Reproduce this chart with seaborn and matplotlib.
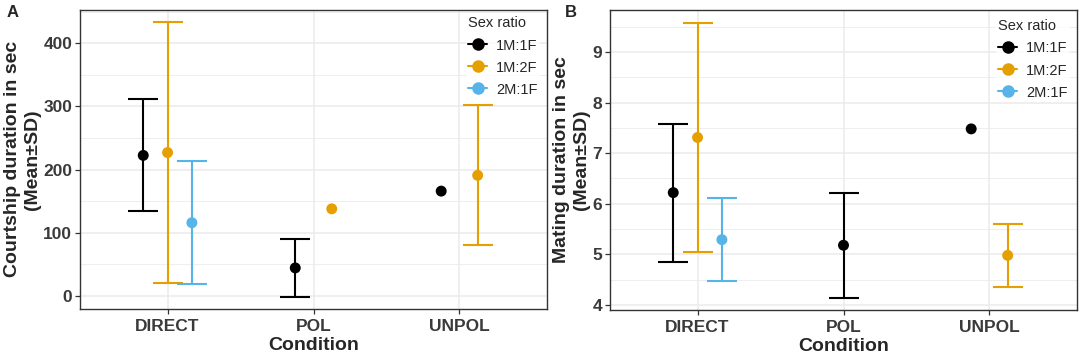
import numpy as np
import pandas as pd
import matplotlib
matplotlib.use("Agg")
import matplotlib.pyplot as plt
from matplotlib.lines import Line2D
from matplotlib.ticker import MultipleLocator
import seaborn as sns

# ---- data ----
conditions = ["DIRECT", "POL", "UNPOL"]
ratios = ["1M:1F", "1M:2F", "2M:1F"]
palette = {"1M:1F": "#000000", "1M:2F": "#E69F00", "2M:1F": "#56B4E9"}

court_cond = ["DIRECT", "DIRECT", "DIRECT", "POL", "POL", "UNPOL", "UNPOL"]
court_ratio = ["1M:1F", "1M:2F", "2M:1F", "1M:1F", "1M:2F", "1M:1F", "1M:2F"]
court_mean = [222.5, 227, 116, 44.5, 138, 166, 191]
court_sd = [88.5, 206.5, 97.5, 45.5, np.nan, np.nan, 111]

mate_cond = ["DIRECT", "DIRECT", "DIRECT", "POL", "UNPOL", "UNPOL"]
mate_ratio = ["1M:1F", "1M:2F", "2M:1F", "1M:1F", "1M:1F", "1M:2F"]
mate_mean = [6.22, 7.31, 5.29, 5.18, 7.48, 4.98]
mate_sd = [1.365, 2.255, 0.815, 1.04, np.nan, 0.62]

sns.set_style("white")
plt.rcParams["font.family"] = ["Liberation Sans", "DejaVu Sans"]

fig = plt.figure(figsize=(10.84, 3.56), dpi=100)
axA = fig.add_axes([80/1084, 1-308.7/356, (547-80)/1084, (308.7-10)/356])
axB = fig.add_axes([610/1084, 1-310/356, (1077-610)/1084, (310-10)/356])

DODGE = 0.5


def make_df(cond, ratio, mean, sd):
    df = pd.DataFrame({"cond": cond, "ratio": ratio, "mean": mean, "sd": sd})
    df["ci"] = df["cond"].map({c: i for i, c in enumerate(conditions)})
    xs = []
    for _, r in df.iterrows():
        grp = df[df["cond"] == r["cond"]]["ratio"].tolist()
        n = len(grp)
        k = grp.index(r["ratio"])
        w = DODGE / n
        xs.append(r["ci"] - DODGE / 2 + w / 2 + k * w)
    df["x"] = xs
    return df


def draw(ax, df, ylim, major, minor, ylabel, letter, leg_anchor):
    for _, r in df.iterrows():
        if not np.isnan(r["sd"]):
            ax.errorbar(r["x"], r["mean"], yerr=r["sd"], fmt="none",
                        ecolor=palette[r["ratio"]], elinewidth=1.5,
                        capsize=10.8, capthick=1.5, zorder=3)
    sns.scatterplot(data=df, x="x", y="mean", hue="ratio", hue_order=ratios,
                    palette=palette, s=62, edgecolor="none", linewidth=0,
                    legend=False, ax=ax, zorder=4)
    ax.set_xlim(-0.6, 2.6)
    ax.set_ylim(*ylim)
    ax.set_xticks(range(len(conditions)))
    ax.set_xticklabels(conditions)
    ax.yaxis.set_major_locator(MultipleLocator(major))
    ax.yaxis.set_minor_locator(MultipleLocator(minor))
    ax.grid(True, which="major", color="#EBEBEB", lw=1.1, zorder=0)
    ax.grid(True, which="minor", axis="y", color="#EBEBEB", lw=0.6, zorder=0)
    ax.set_axisbelow(True)
    for s in ax.spines.values():
        s.set_color("#333333")
        s.set_linewidth(1.0)
    ax.tick_params(axis="both", which="major", direction="out", length=3.5,
                   width=0.9, color="#333333", labelcolor="#3a3a3a",
                   labelsize=12.5, bottom=True, left=True, pad=2)
    ax.tick_params(axis="x", which="major", pad=4)
    ax.tick_params(axis="both", which="minor", length=0)
    for lab in ax.get_xticklabels() + ax.get_yticklabels():
        lab.set_fontweight("bold")
    ax.set_xlabel("Condition", fontsize=14, fontweight="bold", labelpad=2)
    ax.set_ylabel(ylabel, fontsize=14, fontweight="bold", labelpad=2,
                  linespacing=1.2)
    handles = [Line2D([0], [0], color=palette[r], marker="o", markersize=8,
                      lw=1.5) for r in ratios]
    leg = ax.legend(handles, ratios, title="Sex ratio", loc="upper right",
                    bbox_to_anchor=leg_anchor, frameon=True, fontsize=10.5,
                    title_fontsize=10.5, handlelength=1.3, handletextpad=0.6,
                    labelspacing=0.55, borderpad=0.15, fancybox=False)
    leg.get_frame().set_facecolor("white")
    leg.get_frame().set_edgecolor("none")
    leg._legend_box.align = "left"
    fig.text(ax.get_position().x0 - (73 if letter == "A" else 45)/1084, 0.965,
             letter, fontsize=12, fontweight="bold", va="center", ha="left")


dfA = make_df(court_cond, court_ratio, court_mean, court_sd)
dfB = make_df(mate_cond, mate_ratio, mate_mean, mate_sd)
draw(axA, dfA, (-20, 452.5), 100, 50,
     "Courtship duration in sec\n(Mean\u00b1SD)", "A", (1.0, 1.01))
draw(axB, dfB, (3.9, 9.83), 1, 0.5,
     "Mating duration in sec\n(Mean\u00b1SD)", "B", (1.0, 1.0))

fig.savefig("out.png", dpi=100)
